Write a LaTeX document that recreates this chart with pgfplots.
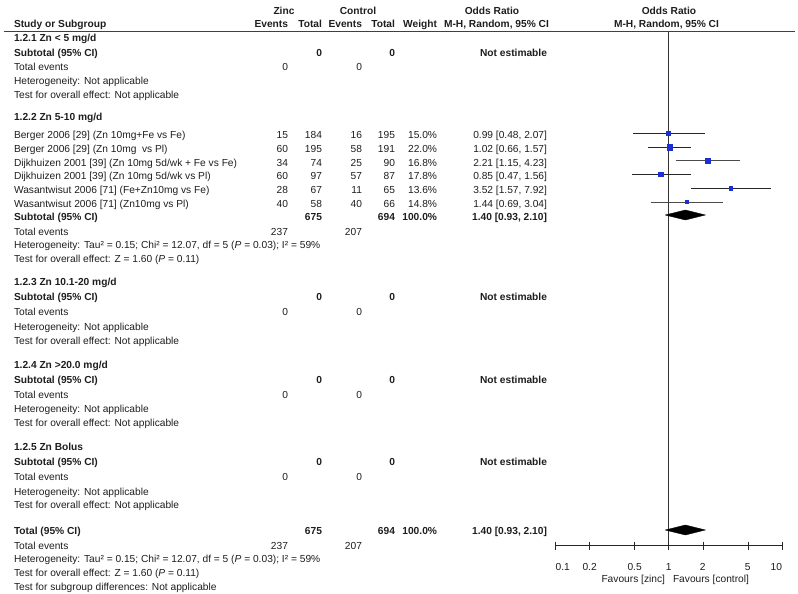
\documentclass[border=0pt]{standalone}
\usepackage{pgfplots}
\pgfplotsset{compat=1.18}
\usepackage{fontspec}
\setmainfont{Liberation Sans}
\definecolor{sq}{RGB}{28,48,210}
\definecolor{txt}{RGB}{30,30,30}
\newcommand\TL[3]{\node[anchor=base west] at ({#1},{#2+3.7}) {#3};}
\newcommand\TR[3]{\node[anchor=base east] at ({#1},{#2+3.7}) {#3};}
\newcommand\TC[3]{\node[anchor=base] at ({#1},{#2+3.7}) {#3};}
\newcommand\EmptyGroup[6]{%
  \TL{14}{#2}{\bfseries #1}
  \TL{14}{#3}{\bfseries Subtotal (95\% CI)}
  \TR{322}{#3}{\bfseries 0}\TR{395}{#3}{\bfseries 0}
  \TR{547}{#3}{\bfseries Not estimable}
  \TL{14}{#4}{Total events}\TR{288}{#4}{0}\TR{362}{#4}{0}
  \TL{14}{#5}{Heterogeneity: Not applicable}
  \TL{14}{#6}{Test for overall effect: Not applicable}}
\begin{document}
\begin{tikzpicture}
\begin{axis}[scale only axis, width=798bp, height=594bp,
  xmode=log, xmin=1.2271e-6, xmax=13.85,
  ymin=0, ymax=594, y dir=reverse, hide axis, clip=false]
% vertical line of no effect
\addplot[black!80, line width=0.9pt] coordinates {(1,31.7) (1,545.7)};
% x axis of forest plot
\addplot[black!85, line width=0.8pt] coordinates {(0.1,545.7) (10,545.7)};
% confidence intervals
\addplot[black!85, line width=0.8pt] coordinates {(0.48,133.3) (2.07,133.3)};
\addplot[black!85, line width=0.8pt] coordinates {(0.66,147.3) (1.57,147.3)};
\addplot[black!70, line width=0.8pt] coordinates {(1.15,160.7) (4.23,160.7)};
\addplot[black!85, line width=0.8pt] coordinates {(0.47,174.3) (1.56,174.3)};
\addplot[black!85, line width=0.8pt] coordinates {(1.57,188) (7.92,188)};
\addplot[black!70, line width=0.8pt] coordinates {(0.69,202) (3.04,202)};
% point estimates
\addplot[only marks, mark=square*, mark size=2.15bp, color=sq] coordinates {(0.99,133.3)};
\addplot[only marks, mark=square*, mark size=2.65bp, color=sq] coordinates {(1.02,147.3)};
\addplot[only marks, mark=square*, mark size=2.15bp, color=sq] coordinates {(2.21,160.7)};
\addplot[only marks, mark=square*, mark size=2.2bp, color=sq] coordinates {(0.85,174.3)};
\addplot[only marks, mark=square*, mark size=1.7bp, color=sq] coordinates {(3.52,188)};
\addplot[only marks, mark=square*, mark size=1.55bp, color=sq] coordinates {(1.44,202)};
% diamonds
\addplot[fill=black, draw=black] coordinates {(0.93,215) (1.40,210) (2.10,215) (1.40,220) (0.93,215)};
\addplot[fill=black, draw=black] coordinates {(0.93,530) (1.40,525) (2.10,530) (1.40,535) (0.93,530)};
% ticks
\foreach \t in {0.1,0.2,0.5,1,2,5,10}{
  \edef\tmp{\noexpand\addplot[black!85, line width=0.8pt] coordinates {(\t,541.7) (\t,549.7)};}
  \tmp
}
\end{axis}
\begin{scope}[x=1bp, y=-1bp, shift={(0,594bp)}, every node/.style={inner sep=0pt, outer sep=0pt, font=\fontsize{10.2bp}{12bp}\selectfont, text=txt}]
\draw[black!75, line width=1.2pt] (4,31.7) -- (795,31.7);
% header
\TC{284}{11}{\bfseries Zinc}
\TC{358}{11}{\bfseries Control}
\TC{492}{11}{\bfseries Odds Ratio}
\TC{669}{11}{\bfseries Odds Ratio}
\TL{14}{24.3}{\bfseries Study or Subgroup}
\TR{288}{24.3}{\bfseries Events}
\TR{322}{24.3}{\bfseries Total}
\TR{362}{24.3}{\bfseries Events}
\TR{395}{24.3}{\bfseries Total}
\TR{437}{24.3}{\bfseries Weight}
\TC{496.5}{24.3}{\bfseries M-H, Random, 95\% CI}
\TC{666.5}{24.3}{\bfseries M-H, Random, 95\% CI}
% 1.2.1
\EmptyGroup{1.2.1 Zn < 5 mg/d}{38.3}{52.7}{66.7}{81}{94.7}
% 1.2.2
\TL{14}{117.3}{\bfseries 1.2.2 Zn 5-10 mg/d}
\TL{14}{135}{Berger 2006 [29] (Zn 10mg+Fe vs Fe)}
\TR{288}{135}{15}\TR{322}{135}{184}\TR{362}{135}{16}\TR{395}{135}{195}\TR{437}{135}{15.0\%}\TR{547}{135}{0.99 [0.48, 2.07]}
\TL{14}{149}{Berger 2006 [29] (Zn 10mg\ \ vs Pl)}
\TR{288}{149}{60}\TR{322}{149}{195}\TR{362}{149}{58}\TR{395}{149}{191}\TR{437}{149}{22.0\%}\TR{547}{149}{1.02 [0.66, 1.57]}
\TL{14}{162.7}{Dijkhuizen 2001 [39] (Zn 10mg 5d/wk + Fe vs Fe)}
\TR{288}{162.7}{34}\TR{322}{162.7}{74}\TR{362}{162.7}{25}\TR{395}{162.7}{90}\TR{437}{162.7}{16.8\%}\TR{547}{162.7}{2.21 [1.15, 4.23]}
\TL{14}{176}{Dijkhuizen 2001 [39] (Zn 10mg 5d/wk vs Pl)}
\TR{288}{176}{60}\TR{322}{176}{97}\TR{362}{176}{57}\TR{395}{176}{87}\TR{437}{176}{17.8\%}\TR{547}{176}{0.85 [0.47, 1.56]}
\TL{14}{190}{Wasantwisut 2006 [71] (Fe+Zn10mg vs Fe)}
\TR{288}{190}{28}\TR{322}{190}{67}\TR{362}{190}{11}\TR{395}{190}{65}\TR{437}{190}{13.6\%}\TR{547}{190}{3.52 [1.57, 7.92]}
\TL{14}{203.7}{Wasantwisut 2006 [71] (Zn10mg vs Pl)}
\TR{288}{203.7}{40}\TR{322}{203.7}{58}\TR{362}{203.7}{40}\TR{395}{203.7}{66}\TR{437}{203.7}{14.8\%}\TR{547}{203.7}{1.44 [0.69, 3.04]}
\TL{14}{216.7}{\bfseries Subtotal (95\% CI)}
\TR{322}{216.7}{\bfseries 675}\TR{395}{216.7}{\bfseries 694}\TR{437}{216.7}{\bfseries 100.0\%}\TR{547}{216.7}{\bfseries 1.40 [0.93, 2.10]}
\TL{14}{232}{Total events}\TR{288}{232}{237}\TR{362}{232}{207}
\TL{14}{245}{Heterogeneity: Tau² = 0.15; Chi² = 12.07, df = 5 (\textit{P} = 0.03); I² = 59\%}
\TL{14}{258.7}{Test for overall effect: Z = 1.60 (\textit{P} = 0.11)}
% 1.2.3 - 1.2.5
\EmptyGroup{1.2.3 Zn 10.1-20 mg/d}{282.3}{296.7}{312}{326.7}{340.7}
\EmptyGroup{1.2.4 Zn >20.0 mg/d}{365}{380}{395}{409}{422.7}
\EmptyGroup{1.2.5 Zn Bolus}{446.7}{461.7}{476.7}{491.7}{505}
% total
\TL{14}{530.7}{\bfseries Total (95\% CI)}
\TR{322}{530.7}{\bfseries 675}\TR{395}{530.7}{\bfseries 694}\TR{437}{530.7}{\bfseries 100.0\%}\TR{547}{530.7}{\bfseries 1.40 [0.93, 2.10]}
\TL{14}{545.7}{Total events}\TR{288}{545.7}{237}\TR{362}{545.7}{207}
\TL{14}{559.3}{Heterogeneity: Tau² = 0.15; Chi² = 12.07, df = 5 (\textit{P} = 0.03); I² = 59\%}
\TL{14}{572.7}{Test for overall effect: Z = 1.60 (\textit{P} = 0.11)}
\TL{14}{586.7}{Test for subgroup differences: Not applicable}
% tick labels
\TL{555.7}{566.7}{0.1}
\TC{589.6}{566.7}{0.2}
\TC{634.6}{566.7}{0.5}
\TC{668.7}{566.7}{1}
\TC{702.8}{566.7}{2}
\TC{747.8}{566.7}{5}
\TR{782}{566.7}{10}
\TR{665}{579}{Favours [zinc]}
\TL{673}{579}{Favours [control]}
\end{scope}
\pgfresetboundingbox
\path (0,0) rectangle (798bp,594bp);
\end{tikzpicture}
\end{document}
